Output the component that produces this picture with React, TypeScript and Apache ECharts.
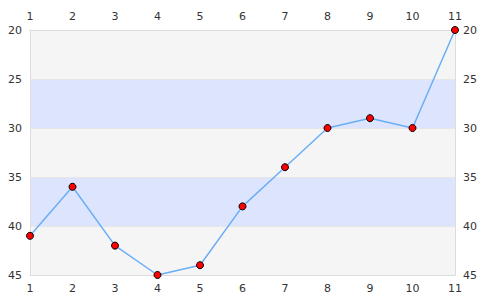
import React, { useEffect, useRef } from "react";
import * as echarts from "echarts";

const xValues = [1, 2, 3, 4, 5, 6, 7, 8, 9, 10, 11];
const yValues = [41, 36, 42, 45, 44, 38, 34, 30, 29, 30, 20];

export default function App() {
  const ref = useRef<HTMLDivElement>(null);
  useEffect(() => {
    const chart = echarts.init(ref.current!, null, { renderer: "svg" });
    const labelStyle = { color: "#333", fontSize: 11, fontFamily: "DejaVu Sans" };
    const xAxisBase = {
      type: "value",
      min: 1,
      max: 11,
      interval: 1,
      axisLine: { show: true, lineStyle: { color: "#ddd" } },
      axisTick: { show: false },
      splitLine: { show: false },
      axisLabel: { ...labelStyle, margin: 8 },
    };
    const yAxisBase = {
      type: "value",
      min: 20,
      max: 45,
      interval: 5,
      inverse: true,
      axisLine: { show: true, lineStyle: { color: "#ddd" } },
      axisTick: { show: false },
      axisLabel: { ...labelStyle, margin: 8 },
    };
    chart.setOption({
      animation: false,
      grid: { left: 30, right: 30, top: 30, bottom: 25, containLabel: false },
      xAxis: [
        { ...xAxisBase, position: "bottom" },
        { ...xAxisBase, position: "top" },
      ],
      yAxis: [
        {
          ...yAxisBase,
          position: "left",
          splitLine: { show: true, lineStyle: { color: "#e6e6e6" } },
          splitArea: { show: true, areaStyle: { color: ["#f5f5f5", "#dde4fe"] } },
        },
        { ...yAxisBase, position: "right", splitLine: { show: false } },
      ],
      series: [
        {
          type: "line",
          data: xValues.map((x, i) => [x, yValues[i]]),
          symbol: "circle",
          symbolSize: 7,
          lineStyle: { color: "#6aaef5", width: 1.5 },
          itemStyle: { color: "#ff0000", borderColor: "#000", borderWidth: 1 },
        },
      ],
    });
    return () => chart.dispose();
  }, []);
  return <div ref={ref} style={{ width: 485, height: 300, position: "absolute", left: 0, top: 0 }} />;
}
